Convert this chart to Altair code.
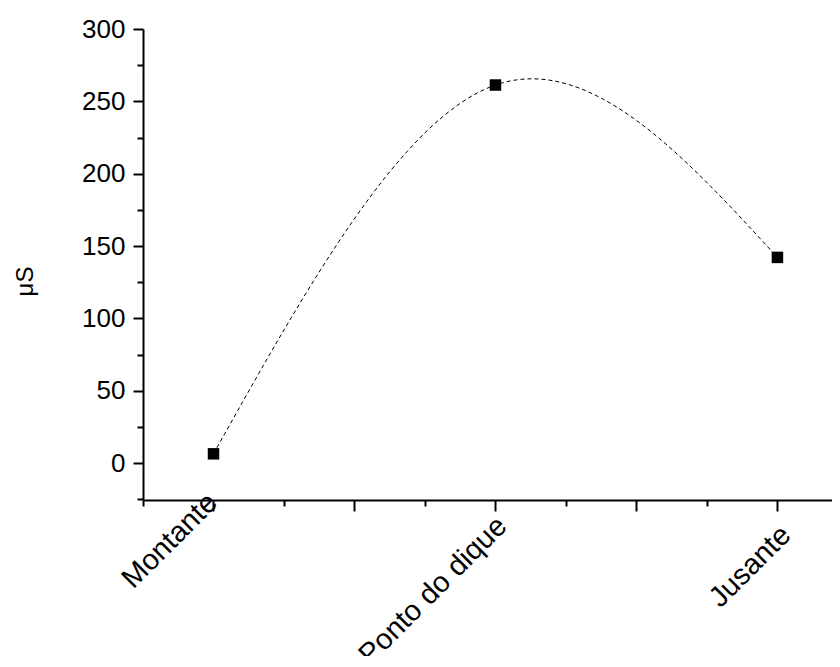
import altair as alt
import pandas as pd

# --- data ---
sites = ["Montante", "Ponto do dique", "Jusante"]
site_pos = [1, 3, 5]
values = [6.5, 261.3, 142.2]

x_major = [1, 2, 3, 4, 5]
x_minor = [0.5, 1.5, 2.5, 3.5, 4.5]
y_major = [0, 50, 100, 150, 200, 250, 300]
y_minor = [-25, 25, 75, 125, 175, 225, 275]

df = pd.DataFrame({"pos": site_pos, "site": sites, "value": values})

FONT = "Liberation Sans"

label_expr = " : ".join(
    f"datum.value == {p} ? '{s}'" for p, s in zip(site_pos, sites)
) + " : ''"

xs = alt.Scale(domain=[0.5, 5.387], nice=False, zero=False)
ys = alt.Scale(domain=[-25.4, 300], nice=False, zero=False)

common = dict(
    grid=False,
    domainColor="black",
    tickColor="black",
    domainWidth=2,
    tickWidth=2,
    labelColor="black",
    labelFont=FONT,
    labelLimit=0,
)

x_axis_major = alt.Axis(
    values=x_major,
    orient="bottom",
    tickSize=11,
    labelExpr=label_expr,
    labelAngle=-45,
    labelAlign="right",
    labelBaseline="middle",
    labelFontSize=29,
    labelOverlap=False,
    labelFlush=False,
    labelBound=False,
    labelOffset={
        "condition": [
            {"test": "datum.value == 3", "value": 6},
            {"test": "datum.value == 5", "value": 8},
        ],
        "value": -1.5,
    },
    labelPadding={
        "condition": [
            {"test": "datum.value == 3", "value": 10},
            {"test": "datum.value == 5", "value": 19},
        ],
        "value": -13.5,
    },
    title=None,
    **common,
)

y_axis_major = alt.Axis(
    values=y_major,
    orient="left",
    tickSize=10,
    labelFontSize=26,
    labelPadding=8,
    labelOverlap=False,
    labelFlush=False,
    title="μS",
    titleFont=FONT,
    titleFontSize=24,
    titleFontWeight="normal",
    titleColor="black",
    titleX=-118,
    titleY=252,
    titleAngle=270,
    titleAlign="center",
    titleBaseline="middle",
    **common,
)

x_axis_minor = alt.Axis(
    values=x_minor, orient="bottom", tickSize=6, labels=False, domain=False,
    title=None, grid=False, tickColor="black", tickWidth=2,
)
y_axis_minor = alt.Axis(
    values=y_minor, orient="left", tickSize=6, labels=False, domain=False,
    title=None, grid=False, tickColor="black", tickWidth=2,
)

line = alt.Chart(df).mark_line(
    interpolate="natural", color="black", strokeWidth=1, strokeDash=[4, 3]
).encode(
    x=alt.X("pos:Q", scale=xs, axis=x_axis_major),
    y=alt.Y("value:Q", scale=ys, axis=y_axis_major),
)

pts = alt.Chart(df).mark_point(
    shape="square", filled=True, color="black", size=132, opacity=1
).encode(
    x=alt.X("pos:Q", scale=xs, axis=x_axis_minor),
    y=alt.Y("value:Q", scale=ys, axis=y_axis_minor),
)

chart = (
    alt.layer(line, pts)
    .resolve_axis(x="independent", y="independent")
    .properties(
        width=689,
        height=471,
        autosize="none",
        padding={"left": 135, "top": 21, "right": 0, "bottom": 156},
        background="white",
    )
    .configure_view(stroke=None)
)

chart.save("out.html", embed_options={"renderer": "svg", "actions": False})
